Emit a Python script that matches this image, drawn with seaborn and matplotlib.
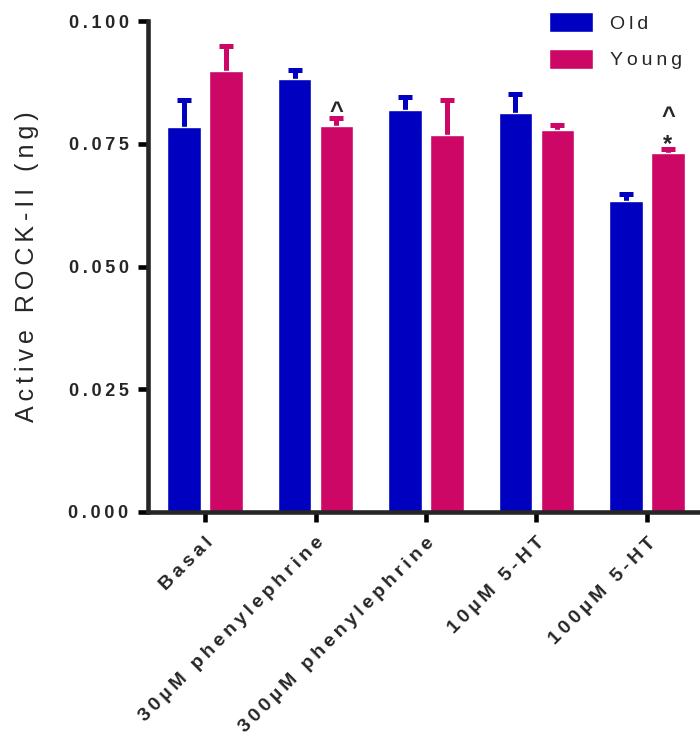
import pandas as pd
import matplotlib
matplotlib.use('Agg')
import matplotlib.pyplot as plt
import matplotlib.transforms as mtransforms
import seaborn as sns

# Data (means and upper SEM)
conditions = ['Basal', '30µM phenylephrine', '300µM phenylephrine', '10µM 5-HT', '100µM 5-HT']
groups = ['Old', 'Young']
old_mean = [0.0784, 0.0882, 0.0819, 0.0813, 0.0633]
old_sem = [0.0055, 0.0018, 0.0026, 0.0038, 0.0015]
young_mean = [0.0898, 0.0786, 0.0768, 0.0778, 0.0731]
young_sem = [0.0051, 0.0016, 0.0071, 0.0010, 0.0008]
# significance marks above the Young bars, listed from bottom to top
young_marks = [[], ['^'], [], [], ['*', '^']]
yticks = [0.0, 0.025, 0.05, 0.075, 0.1]
ylabel = 'Active ROCK-II (ng)'

colors = ['#0000C0', '#CC0766']

sns.set_style('ticks')
plt.rcParams['font.family'] = ['Liberation Sans', 'DejaVu Sans']


def spaced(s):
    # wide letter spacing like the original (thin spaces)
    return '\u2009'.join(s)


df = pd.DataFrame({
    'condition': conditions * 2,
    'group': [groups[0]] * len(conditions) + [groups[1]] * len(conditions),
    'value': old_mean + young_mean,
})

fig = plt.figure(figsize=(7, 7.36), dpi=100)
ax = fig.add_axes([148 / 700, 224 / 736, 552 / 700, 491 / 736])

sns.barplot(data=df, x='condition', y='value', hue='group', palette=colors,
            width=0.76, gap=0.21, errorbar=None, saturation=1, ax=ax, zorder=2)

# error bars drawn behind the bars so only the upper half shows
for cont, sem, col in zip(ax.containers, [old_sem, young_sem], colors):
    xs = [b.get_x() + b.get_width() / 2 for b in cont]
    ys = [b.get_height() for b in cont]
    ax.errorbar(xs, ys, yerr=sem, fmt='none', ecolor=col,
                elinewidth=3.6, capsize=5, capthick=3.6, zorder=1)

# significance marks
step = {'^': 0, '*': -1.5}
for b, sem, marks in zip(ax.containers[1], young_sem, young_marks):
    x = b.get_x() + b.get_width() / 2
    top = b.get_height() + sem
    for i, m in enumerate(marks):
        ax.annotate(m, (x, top), xytext=(0, step[m] + 19 * i), textcoords='offset points',
                    ha='center', va='baseline', fontsize=17, fontweight='bold')

ax.set_ylim(0, 0.1)
ax.set_xlim(-0.516, 4.48)
ax.set_yticks(yticks)
ax.set_yticklabels([spaced(f'{t:.3f}') for t in yticks], fontweight='bold', fontsize=13)
ax.set_xticks(range(len(conditions)))
ax.set_xticklabels([spaced(c) for c in conditions], rotation=45, ha='right', va='top',
                   rotation_mode='anchor', fontweight='bold', fontsize=14)
offset = mtransforms.ScaledTranslation(4 / 100, 0, fig.dpi_scale_trans)
for lab in ax.get_xticklabels():
    lab.set_transform(lab.get_transform() + offset)

ax.set_xlabel('')
ax.set_ylabel(spaced(ylabel), fontsize=18)
ax.yaxis.set_label_coords(-0.198, 0.5)

for s in ['top', 'right']:
    ax.spines[s].set_visible(False)
for s in ['left', 'bottom']:
    ax.spines[s].set_linewidth(3.3)
ax.tick_params(axis='both', width=3.3, length=7, color='black')
ax.tick_params(axis='y', pad=7)
ax.tick_params(axis='x', pad=9)

handles, labels = ax.get_legend_handles_labels()
ax.legend(handles, [spaced(l) for l in labels], loc='upper left',
          bbox_to_anchor=(549 / 700, 1 - 12 / 736), bbox_transform=fig.transFigure,
          frameon=False, borderpad=0, borderaxespad=0, handlelength=2.5 * 12.7 / 14,
          handleheight=1.36 * 12.7 / 14, labelspacing=0.9 * 12.7 / 14,
          handletextpad=0.96 * 12.7 / 14, fontsize=14)

plt.savefig('out.png', dpi=100)
plt.close()
